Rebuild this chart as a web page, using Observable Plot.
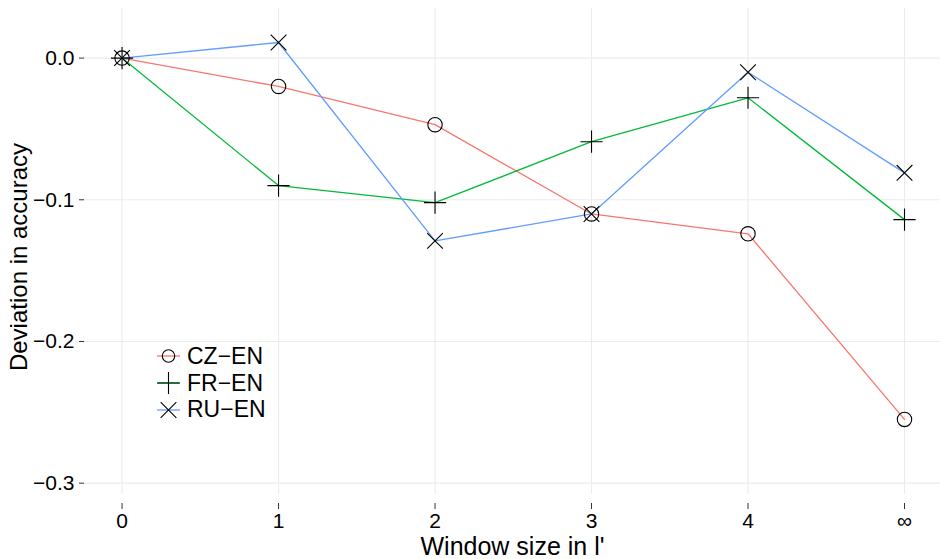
<!DOCTYPE html>
<html>
<head>
<meta charset="utf-8">
<script src="https://cdn.jsdelivr.net/npm/d3@7"></script>
<script src="https://cdn.jsdelivr.net/npm/@observablehq/plot@0.6"></script>
<style>
  html, body { margin: 0; padding: 0; background: #fff; }
  #wrap { position: relative; width: 942px; height: 559px; font-family: "Liberation Sans", Arial, sans-serif; }
  #legend { position: absolute; left: 150px; top: 343px; width: 124px; height: 82px; background: #fff; }
  .row { display: flex; align-items: center; height: 26.7px; font-size: 23px; color: #000; }
  .row svg { margin-left: 7px; margin-right: 6px; }
  #ytitle { position: absolute; left: 19px; top: 257px; transform: translate(-50%, -50%) rotate(-90deg);
            white-space: nowrap; font-size: 24px; line-height: 1; color: #000; }
</style>
</head>
<body>
<div id="wrap"><div id="legend"></div><div id="ytitle"></div></div>
<script>
const windows = [0, 1, 2, 3, 4, 5];
const xTickLabels = ["0", "1", "2", "3", "4", "∞"];
const yTicks = [0, -0.1, -0.2, -0.3];
const seriesNames = ["CZ−EN", "FR−EN", "RU−EN"];
const seriesColors = ["#F8766D", "#00BA38", "#619CFF"];
const seriesSymbols = ["circle", "plus", "times"];
const czEn = [0, -0.020, -0.047, -0.110, -0.124, -0.255];
const frEn = [0, -0.090, -0.102, -0.059, -0.028, -0.114];
const ruEn = [0, 0.011, -0.129, -0.110, -0.010, -0.081];
const xTitle = "Window size in l'";
const yTitle = "Deviation in accuracy";

const valuesBySeries = [czEn, frEn, ruEn];
const data = [];
seriesNames.forEach((s, i) => {
  windows.forEach((w, j) => data.push({series: s, x: w, y: valuesBySeries[i][j]}));
});

const font = "'Liberation Sans', Arial, sans-serif";
const yFmt = d => d === 0 ? "0.0" : (d < 0 ? "\u2212" : "") + Math.abs(d).toFixed(1);

const chart = Plot.plot({
  width: 942,
  height: 559,
  marginLeft: 84,
  marginRight: 2,
  marginTop: 8,
  marginBottom: 65,
  style: {fontFamily: font, background: "#fff", color: "#000"},
  x: {type: "linear", domain: [-0.24, 5.23]},
  y: {domain: [-0.308, 0.035]},
  color: {domain: seriesNames, range: seriesColors},
  symbol: {domain: seriesNames, range: seriesSymbols},
  marks: [
    Plot.gridX(windows, {stroke: "#ebebeb", strokeOpacity: 1, strokeWidth: 1.1}),
    Plot.gridY(yTicks, {stroke: "#ebebeb", strokeOpacity: 1, strokeWidth: 1.1}),
    Plot.axisY(yTicks, {tickSize: 5, tickPadding: 5, fontSize: 21, tickFormat: yFmt, label: null, stroke: "#333"}),
    Plot.axisX(windows, {tickSize: 6, dy: 9, tickPadding: 4, fontSize: 21, tickFormat: d => xTickLabels[windows.indexOf(d)], label: null, stroke: "#333"}),
    Plot.text([xTitle], {frameAnchor: "bottom", dy: 52, fontSize: 25, lineAnchor: "middle", fill: "#000"}),
    Plot.line(data, {x: "x", y: "y", z: "series", stroke: "series", strokeWidth: 1.3}),
    Plot.dot(data, {x: "x", y: "y", symbol: "series", r: 7.2, stroke: "#000", fill: "none", strokeWidth: 1.1})
  ]
});
document.getElementById("wrap").prepend(chart);
document.getElementById("ytitle").textContent = yTitle;

// legend
const legend = d3.select("#legend");
const d3Symbols = {circle: d3.symbolCircle, plus: d3.symbolPlus, times: d3.symbolTimes};
seriesNames.forEach((s, i) => {
  const row = legend.append("div").attr("class", "row");
  const svg = row.append("svg").attr("width", 24).attr("height", 26);
  svg.append("line").attr("x1", 0).attr("x2", 23).attr("y1", 13).attr("y2", 13)
    .attr("stroke", seriesColors[i]).attr("stroke-width", 1.3);
  const r = seriesSymbols[i] === "circle" ? 6.2 : 7.2;
  svg.append("path").attr("transform", "translate(11.5,13)")
    .attr("d", d3.symbol(d3Symbols[seriesSymbols[i]], Math.PI * r * r)())
    .attr("fill", "none").attr("stroke", "#000").attr("stroke-width", 1.1);
  row.append("span").text(s);
});
</script>
</body>
</html>
